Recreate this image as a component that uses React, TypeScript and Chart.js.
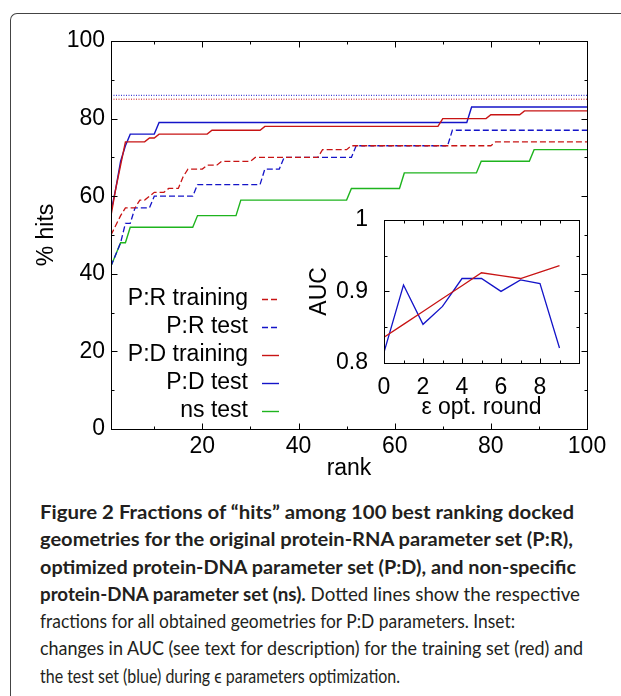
import React, { useEffect, useLayoutEffect, useRef } from 'react';
import { Chart, registerables } from 'chart.js';

Chart.register(...registerables);

const AXIS_FONT = '"Liberation Sans", Arial, Helvetica, sans-serif';
const CAPTION_FONT = 'Lato, "Open Sans", sans-serif';
const RED = '#c81414';
const BLUE = '#1414c8';
const GREEN = '#1eb41e';

// ---------- main plot: rank vs % hits (breakpoints of the step curves) ----------
const prTrainingRank = [1, 3, 4, 6, 7, 8, 10, 12, 13, 15, 16, 17, 20, 21, 23, 24, 30, 31, 44, 45, 50, 51, 80, 81, 100];
const prTrainingHits = [50, 55, 57, 57, 59, 59, 61, 61, 62, 62, 65, 67, 67, 68, 68, 69, 69, 70, 70, 72, 72, 73, 73, 74, 74];

const prTestRank = [1, 3, 4, 5, 6, 9, 10, 18, 19, 32, 33, 36, 37, 51, 52, 71, 72, 100];
const prTestHits = [42, 48, 53, 53, 57, 57, 60, 60, 63, 63, 67, 67, 70, 70, 73, 73, 77, 77];

const pdTrainingRank = [1, 2, 3, 4, 8, 9, 10, 11, 21, 22, 32, 33, 69, 70, 79, 80, 86, 87, 100];
const pdTrainingHits = [55, 62, 68, 74, 74, 75, 75, 76, 76, 77, 77, 78, 78, 80, 80, 81, 81, 82, 82];

const pdTestRank = [1, 2, 3, 4, 5, 10, 11, 75, 76, 100];
const pdTestHits = [56, 62, 69, 73, 76, 76, 79, 79, 83, 83];

const nsTestRank = [1, 3, 4, 5, 18, 19, 27, 28, 50, 51, 61, 62, 77, 78, 88, 89, 100];
const nsTestHits = [42, 48, 48, 52, 52, 55, 55, 59, 59, 62, 62, 66, 66, 69, 69, 72, 72];

// dotted: fractions for all obtained geometries (P:D parameters)
const allGeomRank = [1, 100];
const allGeomTestHits = [86, 86];
const allGeomTrainingHits = [85, 85];

const legendLabels = ['P:R training', 'P:R test', 'P:D training', 'P:D test', 'ns test'];

const mainXTicks = [10, 20, 30, 40, 50, 60, 70, 80, 90, 100];
const mainYTicks = [0, 10, 20, 30, 40, 50, 60, 70, 80, 90, 100];

// ---------- inset: AUC vs epsilon optimisation round ----------
const insetRounds = [0, 1, 2, 3, 4, 5, 6, 7, 8, 9];
const insetTrainingAUC = [0.836, 0.854, 0.872, 0.89, 0.908, 0.926, 0.922, 0.918, 0.927, 0.936];
const insetTestAUC = [0.815, 0.909, 0.854, 0.879, 0.918, 0.918, 0.9, 0.916, 0.911, 0.821];
const insetXTicks = [0, 1, 2, 3, 4, 5, 6, 7, 8, 9];
const insetYTicks = [0.8, 0.85, 0.9, 0.95, 1.0];

// ---------- caption ----------
const captionLines: { bold: string; normal: string }[] = [
  { bold: 'Figure 2 Fractions of \u201chits\u201d among 100 best ranking docked', normal: '' },
  { bold: 'geometries for the original protein-RNA parameter set (P:R),', normal: '' },
  { bold: 'optimized protein-DNA parameter set (P:D), and non-specific', normal: '' },
  { bold: 'protein-DNA parameter set (ns).', normal: ' Dotted lines show the respective' },
  { bold: '', normal: 'fractions for all obtained geometries for P:D parameters. Inset:' },
  { bold: '', normal: 'changes in AUC (see text for description) for the training set (red) and' },
  { bold: '', normal: 'the test set (blue) during \u03f5 parameters optimization.' },
];
const captionWidths = [534, 533, 536, 540, 475, 543, 360];

const toPoints = (xs: number[], ys: number[]) => xs.map((x, i) => ({ x, y: ys[i] }));

const frameTicksPlugin = {
  id: 'frameTicks',
  afterDatasetsDraw(chart: any, _args: any, opts: any) {
    const { ctx, chartArea: a } = chart;
    const xs = chart.scales.x;
    const ys = chart.scales.y;
    const L = Math.round(a.left) + 0.5;
    const R = Math.round(a.right) + 0.5;
    const T = Math.round(a.top) + 0.5;
    const B = Math.round(a.bottom) + 0.5;
    ctx.save();
    ctx.strokeStyle = '#000';
    ctx.lineWidth = 1;
    ctx.setLineDash([]);
    ctx.strokeRect(L, T, R - L, B - T);
    ctx.beginPath();
    xs.ticks.forEach((t: any) => {
      const px = Math.round(xs.getPixelForValue(t.value)) + 0.5;
      const len = t.label !== '' ? opts.major : opts.minor;
      ctx.moveTo(px, B);
      ctx.lineTo(px, B - len);
      ctx.moveTo(px, T);
      ctx.lineTo(px, T + len);
    });
    ys.ticks.forEach((t: any) => {
      const py = Math.round(ys.getPixelForValue(t.value)) + 0.5;
      const len = t.label !== '' ? opts.major : opts.minor;
      ctx.moveTo(L, py);
      ctx.lineTo(L + len, py);
      ctx.moveTo(R, py);
      ctx.lineTo(R - len, py);
    });
    ctx.stroke();
    ctx.restore();
  },
};

const insideLegendPlugin = {
  id: 'insideLegend',
  afterDatasetsDraw(chart: any, _args: any, opts: any) {
    const { ctx } = chart;
    ctx.save();
    ctx.font = opts.font;
    ctx.textAlign = 'right';
    ctx.textBaseline = 'middle';
    let i = 0;
    chart.data.datasets.forEach((ds: any) => {
      if (!ds.label) return;
      const y = opts.top + i * opts.spacing;
      ctx.fillStyle = '#000';
      ctx.fillText(ds.label, opts.textRight, y);
      ctx.beginPath();
      ctx.strokeStyle = ds.borderColor;
      ctx.lineWidth = ds.borderWidth;
      ctx.setLineDash(ds.borderDash || []);
      ctx.moveTo(opts.lineStart, Math.round(y) + 0.5);
      ctx.lineTo(opts.lineEnd, Math.round(y) + 0.5);
      ctx.stroke();
      i++;
    });
    ctx.restore();
  },
};

const axisFont = { family: AXIS_FONT, size: 23 };

function MainChart() {
  const ref = useRef<HTMLCanvasElement>(null);
  useEffect(() => {
    const dashed = [6, 3];
    const chart = new Chart(ref.current as HTMLCanvasElement, {
      type: 'line',
      data: {
        datasets: [
          { label: legendLabels[0], data: toPoints(prTrainingRank, prTrainingHits), borderColor: RED, borderWidth: 1.3, borderDash: dashed },
          { label: legendLabels[1], data: toPoints(prTestRank, prTestHits), borderColor: BLUE, borderWidth: 1.3, borderDash: dashed },
          { label: legendLabels[2], data: toPoints(pdTrainingRank, pdTrainingHits), borderColor: RED, borderWidth: 1.4 },
          { label: legendLabels[3], data: toPoints(pdTestRank, pdTestHits), borderColor: BLUE, borderWidth: 1.4 },
          { label: legendLabels[4], data: toPoints(nsTestRank, nsTestHits), borderColor: GREEN, borderWidth: 1.4 },
          { label: '', data: toPoints(allGeomRank, allGeomTestHits), borderColor: BLUE, borderWidth: 1, borderDash: [1, 1.5] },
          { label: '', data: toPoints(allGeomRank, allGeomTrainingHits), borderColor: RED, borderWidth: 1, borderDash: [1, 1.5] },
        ] as any,
      },
      options: {
        animation: false,
        responsive: false,
        maintainAspectRatio: false,
        events: [],
        layout: { padding: { left: 30, top: 41, right: 34, bottom: 0 } },
        elements: { point: { radius: 0 }, line: { tension: 0, fill: false } },
        plugins: {
          legend: { display: false },
          tooltip: { enabled: false },
          frameTicks: { major: 6, minor: 3 },
          insideLegend: {
            font: `23px ${AXIS_FONT}`,
            textRight: 248,
            lineStart: 262,
            lineEnd: 279,
            top: 298.5,
            spacing: 28,
          },
        } as any,
        scales: {
          x: {
            type: 'linear',
            min: 1,
            max: 100,
            afterBuildTicks: (s: any) => {
              s.ticks = mainXTicks.map((v) => ({ value: v }));
            },
            afterFit: (s: any) => {
              s.height = 61;
            },
            ticks: {
              autoSkip: false,
              maxRotation: 0,
              padding: 3.4,
              color: '#000',
              font: axisFont,
              callback: (v: any) => (Number(v) % 20 === 0 ? String(v) : ''),
            },
            grid: { display: false, drawTicks: false },
            border: { display: false },
            title: { display: true, text: 'rank', color: '#000', font: axisFont, padding: { top: 0, bottom: 7.4 } },
          },
          y: {
            type: 'linear',
            min: 0,
            max: 100,
            afterBuildTicks: (s: any) => {
              s.ticks = mainYTicks.map((v) => ({ value: v }));
            },
            afterFit: (s: any) => {
              s.width = 81;
            },
            ticks: {
              autoSkip: false,
              padding: 6,
              color: '#000',
              font: axisFont,
              callback: (v: any) => (Number(v) % 20 === 0 ? String(v) : ''),
            },
            grid: { display: false, drawTicks: false },
            border: { display: false },
            title: { display: true, text: '% hits', color: '#000', font: axisFont, padding: { top: 2.4, bottom: 0 } },
          },
        },
      },
      plugins: [frameTicksPlugin, insideLegendPlugin],
    } as any);
    return () => chart.destroy();
  }, []);
  return (
    <canvas
      ref={ref}
      width={621}
      height={490}
      style={{ position: 'absolute', left: 0, top: 0, width: 621, height: 490 }}
    />
  );
}

function InsetChart() {
  const ref = useRef<HTMLCanvasElement>(null);
  useEffect(() => {
    const chart = new Chart(ref.current as HTMLCanvasElement, {
      type: 'line',
      data: {
        datasets: [
          { label: 'training', data: toPoints(insetRounds, insetTrainingAUC), borderColor: RED, borderWidth: 1.3 },
          { label: 'test', data: toPoints(insetRounds, insetTestAUC), borderColor: BLUE, borderWidth: 1.3 },
        ] as any,
      },
      options: {
        animation: false,
        responsive: false,
        maintainAspectRatio: false,
        events: [],
        layout: { padding: { left: 14, top: 19, right: 11, bottom: 0 } },
        elements: { point: { radius: 0 }, line: { tension: 0, fill: false } },
        plugins: {
          legend: { display: false },
          tooltip: { enabled: false },
          frameTicks: { major: 5, minor: 3 },
        } as any,
        scales: {
          x: {
            type: 'linear',
            min: 0,
            max: 10,
            afterBuildTicks: (s: any) => {
              s.ticks = insetXTicks.map((v) => ({ value: v }));
            },
            afterFit: (s: any) => {
              s.height = 67;
            },
            ticks: {
              autoSkip: false,
              maxRotation: 0,
              padding: 10.4,
              color: '#000',
              font: axisFont,
              callback: (v: any) => (Number(v) % 2 === 0 ? String(v) : ''),
            },
            grid: { display: false, drawTicks: false },
            border: { display: false },
            title: { display: true, text: '\u03b5 opt. round', color: '#000', font: axisFont, padding: { top: 0, bottom: 8.4 } },
          },
          y: {
            type: 'linear',
            min: 0.8,
            max: 1.0,
            afterBuildTicks: (s: any) => {
              s.ticks = insetYTicks.map((v) => ({ value: v }));
            },
            afterFit: (s: any) => {
              s.width = 80;
            },
            ticks: {
              autoSkip: false,
              padding: 16,
              color: '#000',
              font: axisFont,
              callback: (v: any) => {
                const n = Number(v);
                const tenth = Math.round(n * 10);
                if (Math.abs(n * 10 - tenth) > 1e-6) return '';
                return tenth === 10 ? '1' : (tenth / 10).toFixed(1);
              },
            },
            grid: { display: false, drawTicks: false },
            border: { display: false },
            title: { display: true, text: 'AUC', color: '#000', font: axisFont, padding: { top: 1.4, bottom: 0 } },
          },
        },
      },
      plugins: [frameTicksPlugin],
    } as any);
    return () => chart.destroy();
  }, []);
  return (
    <canvas
      ref={ref}
      width={300}
      height={240}
      style={{ position: 'absolute', left: 290, top: 190, width: 300, height: 240 }}
    />
  );
}

function Caption() {
  const lineRefs = useRef<(HTMLSpanElement | null)[]>([]);
  useLayoutEffect(() => {
    const fit = () => {
      lineRefs.current.forEach((el, i) => {
        if (!el) return;
        el.style.transform = 'none';
        const w = el.getBoundingClientRect().width;
        if (w > 0) el.style.transform = `scaleX(${captionWidths[i] / w})`;
      });
    };
    fit();
    if ((document as any).fonts && (document as any).fonts.ready) {
      (document as any).fonts.ready.then(fit);
    }
  }, []);
  return (
    <div
      style={{
        position: 'absolute',
        left: 40,
        top: 498,
        fontFamily: CAPTION_FONT,
        fontSize: 19,
        lineHeight: '27.3px',
        color: '#231f20',
      }}
    >
      {captionLines.map((ln, i) => (
        <div key={i} style={{ height: 27.3, whiteSpace: 'nowrap' }}>
          <span
            ref={(el) => {
              lineRefs.current[i] = el;
            }}
            style={{ display: 'inline-block', transformOrigin: 'left center', whiteSpace: 'pre' }}
          >
            {ln.bold ? <b style={{ fontWeight: 700 }}>{ln.bold}</b> : null}
            {ln.normal ? <span style={{ fontWeight: 400 }}>{ln.normal}</span> : null}
          </span>
        </div>
      ))}
    </div>
  );
}

export default function App() {
  return (
    <div
      style={{
        position: 'fixed',
        left: 0,
        top: 0,
        width: 621,
        height: 696,
        overflow: 'hidden',
        background: '#fff',
      }}
    >
      <div
        style={{
          position: 'absolute',
          left: 10,
          top: 13,
          width: 700,
          height: 800,
          borderTop: '1px solid #444',
          borderLeft: '1px solid #444',
          borderTopLeftRadius: 7,
          boxSizing: 'border-box',
        }}
      />
      <MainChart />
      <InsetChart />
      <Caption />
    </div>
  );
}
